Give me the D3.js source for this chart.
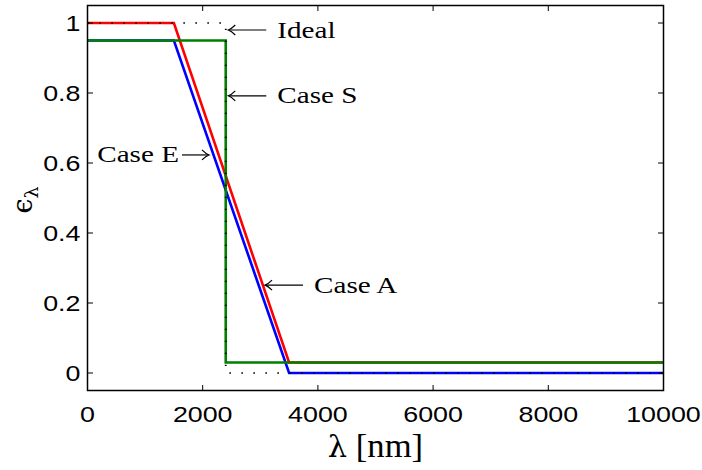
<!DOCTYPE html>
<html>
<head>
<meta charset="utf-8">
<script src="https://cdn.jsdelivr.net/npm/d3@7"></script>
<style>
  html, body { margin: 0; padding: 0; background: #fff; }
  svg { display: block; }
</style>
</head>
<body>
<svg id="chart" width="702" height="470"></svg>
<script>
// ---- data ----
const xTicks = [0, 2000, 4000, 6000, 8000, 10000];
const yTicks = [0, 0.2, 0.4, 0.6, 0.8, 1];
const xTickLabels = ["0", "2000", "4000", "6000", "8000", "10000"];
const yTickLabels = ["0", "0.2", "0.4", "0.6", "0.8", "1"];

const caseE_x = [0, 1500, 3500, 10000];
const caseE_y = [0.95, 0.95, 0, 0];
const caseA_x = [0, 1500, 3500, 10000];
const caseA_y = [1, 1, 0.03, 0.03];
const caseS_x = [0, 2400, 2400, 10000];
const caseS_y = [0.95, 0.95, 0.03, 0.03];
const ideal_x = [0, 2400, 2400, 10000];
const ideal_y = [1, 1, 0, 0];

const annLabels = ["Ideal", "Case S", "Case E", "Case A"];
const annTipX = [2444, 2444, 2109, 3082];
const annTipY = [0.98, 0.792, 0.623, 0.251];
const annDir = [-1, -1, 1, -1]; // -1: arrow points left (text right), 1: arrow points right (text left)
const annLen = [38, 38, 27, 38];

// ---- layout ----
const svg = d3.select("#chart");
const L = 87.5, R = 663.5, T = 5.5, B = 390.5;
const x = d3.scaleLinear().domain([0, 10000]).range([L, R]);
const y = d3.scaleLinear().domain([-0.05, 1.05]).range([B, T]);

const tickFont = "'Liberation Sans', Arial, Helvetica, sans-serif";
const serifFont = "'Liberation Serif', 'DejaVu Serif', serif";
const sx = 1.22;

// ---- series ----
const line = d3.line().x(d => x(d[0])).y(d => y(d[1]));
function pts(xs, ys) { return xs.map((v, i) => [v, ys[i]]); }

const g = svg.append("g");
const series = [
  { d: pts(caseE_x, caseE_y), c: "#0000ff" },
  { d: pts(caseA_x, caseA_y), c: "#ff0000" },
  { d: pts(caseS_x, caseS_y), c: "#007f00" }
];
series.forEach(s => {
  g.append("path").attr("d", line(s.d)).attr("fill", "none")
    .attr("stroke", s.c).attr("stroke-width", 2.6)
    .attr("stroke-linejoin", "miter");
});
g.append("path").attr("d", line(pts(ideal_x, ideal_y))).attr("fill", "none")
  .attr("stroke", "#000").attr("stroke-width", 1.8)
  .attr("stroke-dasharray", "1.2,10.8");

// ---- axes frame ----
const axG = svg.append("g");
axG.append("rect").attr("x", L).attr("y", T).attr("width", R - L).attr("height", B - T)
  .attr("fill", "none").attr("stroke", "#000").attr("stroke-width", 1.5);

const tl = 5.5;
xTicks.forEach((t, i) => {
  const px = x(t);
  axG.append("line").attr("x1", px).attr("x2", px).attr("y1", B).attr("y2", B - tl)
    .attr("stroke", "#000").attr("stroke-width", 1);
  axG.append("line").attr("x1", px).attr("x2", px).attr("y1", T).attr("y2", T + tl)
    .attr("stroke", "#000").attr("stroke-width", 1);
  axG.append("text").attr("transform", `translate(${px},${B + 31}) scale(${sx},1)`)
    .attr("text-anchor", "middle").attr("font-family", tickFont).attr("font-size", 22)
    .text(xTickLabels[i]);
});
yTicks.forEach((t, i) => {
  const py = y(t);
  axG.append("line").attr("x1", L).attr("x2", L + tl).attr("y1", py).attr("y2", py)
    .attr("stroke", "#000").attr("stroke-width", 1);
  axG.append("line").attr("x1", R).attr("x2", R - tl).attr("y1", py).attr("y2", py)
    .attr("stroke", "#000").attr("stroke-width", 1);
  axG.append("text").attr("transform", `translate(${L - 7},${py + 8}) scale(${sx},1)`)
    .attr("text-anchor", "end").attr("font-family", tickFont).attr("font-size", 22)
    .text(yTickLabels[i]);
});

// ---- axis labels ----
const xl = svg.append("text").attr("transform", `translate(${(L + R) / 2},${457}) scale(1.05,1)`)
  .attr("text-anchor", "middle").attr("font-family", "'Liberation Serif', serif").attr("font-size", 33);
xl.append("tspan").attr("font-family", "'DejaVu Serif', serif").attr("font-size", 29).text("λ");
xl.append("tspan").text(" [nm]");

const yl = svg.append("text").attr("transform", `translate(32,200) rotate(-90)`)
  .attr("text-anchor", "middle").attr("font-family", serifFont).attr("font-size", 30);
yl.append("tspan").attr("font-family", "'DejaVu Serif', serif").attr("font-size", 27).text("ϵ");
yl.append("tspan").attr("dy", 6).attr("font-family", "'DejaVu Serif', serif").attr("font-size", 19).text("λ");

// ---- annotations ----
const annG = svg.append("g");
annLabels.forEach((lab, i) => {
  const tx = x(annTipX[i]), ty = y(annTipY[i]);
  const dir = annDir[i];
  const len = annLen[i];
  const tail = tx - dir * len;
  annG.append("line").attr("x1", tail).attr("x2", tx - dir * 0.5).attr("y1", ty).attr("y2", ty)
    .attr("stroke", "#000").attr("stroke-width", 1.2);
  // curved arrow head
  const hb = 7, hw = 5;
  annG.append("path")
    .attr("d", `M${tx - dir * hb},${ty - hw} Q${tx - dir * 3},${ty - 1} ${tx},${ty} Q${tx - dir * 3},${ty + 1} ${tx - dir * hb},${ty + hw}`)
    .attr("fill", "none").attr("stroke", "#000").attr("stroke-width", 1.2);
  const textX = dir < 0 ? tail + 11 : tail - 3;
  annG.append("text").attr("transform", `translate(${textX},${ty + 7.5}) scale(1.24,1)`)
    .attr("text-anchor", dir < 0 ? "start" : "end")
    .attr("font-family", serifFont).attr("font-size", 23.5)
    .text(lab);
});
</script>
</body>
</html>
